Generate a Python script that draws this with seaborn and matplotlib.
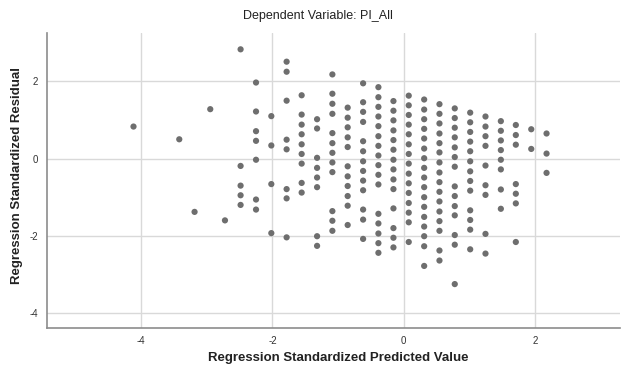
import numpy as np
import pandas as pd
import matplotlib
matplotlib.use("Agg")
import matplotlib.pyplot as plt
import seaborn as sns

# Standardized predicted values (one entry per distinct predicted level)
pred_levels = [-4.116, -3.419, -3.186, -2.947, -2.723, -2.485, -2.250, -2.017,
               -1.784, -1.555, -1.320, -1.087, -0.854, -0.619, -0.386, -0.157,
               0.076, 0.311, 0.544, 0.777, 1.012, 1.245, 1.479, 1.707, 1.942, 2.175]

# Standardized residuals observed at each predicted level
resid_by_level = [
    [0.83],
    [0.50],
    [-1.38],
    [1.28],
    [-1.60],
    [2.83, -0.19, -0.70, -0.95, -1.20],
    [1.97, 1.22, 0.71, 0.46, -0.03, -1.06, -1.32],
    [1.10, 0.34, -0.66, -1.93],
    [2.51, 2.25, 1.50, 0.49, 0.24, -0.79, -1.03, -2.04],
    [1.64, 1.14, 0.88, 0.63, 0.37, 0.12, -0.13, -0.63, -0.88],
    [1.02, 0.78, 0.02, -0.24, -0.49, -0.74, -2.01, -2.26],
    [2.18, 1.68, 1.42, 1.16, 0.66, 0.40, 0.15, -0.10, -0.35, -1.36, -1.61, -1.87],
    [1.32, 1.06, 0.81, 0.55, 0.30, -0.20, -0.46, -0.71, -0.97, -1.22, -1.72],
    [1.95, 1.46, 1.21, 0.95, 0.45, 0.19, -0.07, -0.32, -0.57, -0.82, -1.32, -1.58, -2.08],
    [1.85, 1.59, 1.34, 1.09, 0.84, 0.58, 0.33, 0.08, -0.17, -0.42, -0.67, -1.43, -1.68,
     -1.94, -2.19, -2.44],
    [1.49, 1.24, 0.99, 0.73, 0.48, 0.23, -0.03, -0.28, -0.54, -0.79, -1.29, -1.80, -2.05, -2.30],
    [1.63, 1.38, 1.13, 0.88, 0.63, 0.37, 0.12, -0.13, -0.39, -0.64, -0.89, -1.15, -1.40,
     -1.65, -2.16],
    [1.53, 1.27, 1.02, 0.77, 0.52, 0.26, 0.01, -0.24, -0.49, -0.74, -1.00, -1.25, -1.51,
     -1.76, -2.01, -2.27, -2.78],
    [1.41, 1.16, 0.91, 0.65, 0.40, 0.16, -0.10, -0.36, -0.61, -0.86, -1.11, -1.37, -1.62,
     -1.87, -2.38, -2.64],
    [1.30, 1.05, 0.80, 0.55, 0.29, 0.04, -0.21, -0.72, -0.97, -1.23, -1.47, -1.98, -2.23, -3.25],
    [1.19, 0.94, 0.69, 0.44, 0.19, -0.07, -0.33, -0.58, -0.83, -1.34, -1.59, -1.84, -2.35],
    [1.09, 0.83, 0.58, 0.33, -0.18, -0.69, -0.94, -1.95, -2.46],
    [0.97, 0.72, 0.47, 0.22, -0.03, -0.28, -0.80, -1.30],
    [0.87, 0.61, 0.36, -0.66, -0.91, -1.16, -2.16],
    [0.76, 0.25],
    [0.65, 0.13, -0.37],
]

x_ticks = [-4, -2, 0, 2]
y_ticks = [-4, -2, 0, 2]

title = "Dependent Variable: PI_All"
x_label = "Regression Standardized Predicted Value"
y_label = "Regression Standardized Residual"

rows = [(p, r) for p, rs in zip(pred_levels, resid_by_level) for r in rs]
df = pd.DataFrame(rows, columns=["pred", "resid"])

sns.set_theme(style="white")
plt.rcParams["font.family"] = ["Liberation Sans", "DejaVu Sans"]

fig = plt.figure(figsize=(6.21, 3.72), dpi=100)
ax = fig.add_axes([0.075, 0.118, 0.923, 0.793])

sns.scatterplot(data=df, x="pred", y="resid", ax=ax, color="#6e6e6e",
                s=20, edgecolor="none", linewidth=0, zorder=3)

ax.set_xlim(-5.44, 3.29)
ax.set_ylim(-4.39, 3.25)
ax.set_xticks(x_ticks)
ax.set_yticks(y_ticks)
ax.set_xticklabels([str(t) for t in x_ticks])
ax.set_yticklabels([str(t) for t in y_ticks])
ax.grid(True, color="#d9d9d9", linewidth=1.0, zorder=0)
ax.tick_params(axis="both", length=0, labelsize=7, colors="#333333", pad=6)
ax.tick_params(axis="y", pad=6)

for side in ["top", "right"]:
    ax.spines[side].set_visible(False)
for side in ["left", "bottom"]:
    ax.spines[side].set_color("#8c8c8c")
    ax.spines[side].set_linewidth(1.2)

ax.set_xlabel("")
ax.set_ylabel("")
fig.text(338 / 621, 1 - 358 / 372, x_label, ha="center", va="center",
         fontsize=9.5, fontweight="bold", color="#222222")
fig.text(17 / 621, 1 - 176 / 372, y_label, ha="center", va="center", rotation=90,
         fontsize=9.5, fontweight="bold", color="#222222")

fig.text(318 / 621, 1 - 16 / 372, title, ha="center", va="center", fontsize=9, color="#222222")

fig.savefig("out.png", dpi=100, facecolor="white")
